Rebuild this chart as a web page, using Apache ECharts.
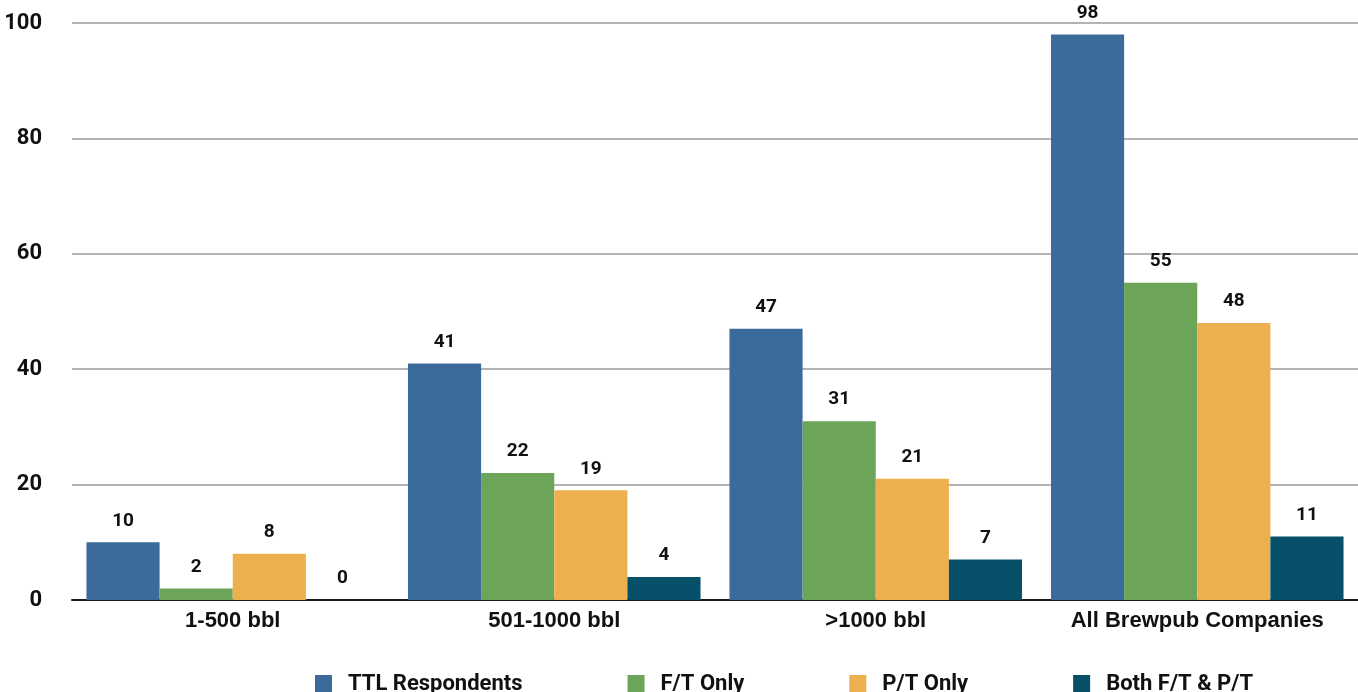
<!DOCTYPE html>
<html><head><meta charset="utf-8">
<script src="https://cdn.jsdelivr.net/npm/echarts@6/dist/echarts.min.js"></script>
<style>html,body{margin:0;padding:0;background:#fff}#c{width:1358px;height:692px}</style>
</head><body><div id="c"></div>
<script>
const categories = ['1-500 bbl', '501-1000 bbl', '>1000 bbl', 'All Brewpub Companies'];
const seriesNames = ['TTL Respondents', 'F/T Only', 'P/T Only', 'Both F/T & P/T'];
const ttlRespondents = [10, 41, 47, 98];
const ftOnly = [2, 22, 31, 55];
const ptOnly = [8, 19, 21, 48];
const bothFtPt = [0, 4, 7, 11];
const yTicks = [0, 20, 40, 60, 80, 100];

const colors = ['#3b6b9b', '#6ca45a', '#edb04e', '#06506a'];
const values = [ttlRespondents, ftOnly, ptOnly, bothFtPt];

const chart = echarts.init(document.getElementById('c'), null, {renderer: 'canvas'});
chart.setOption({
  animation: false,
  backgroundColor: '#fff',
  grid: {left: 72, right: 0, top: 23, bottom: 92, containLabel: false},
  legend: {
    data: seriesNames,
    left: 310, top: 668,
    itemWidth: 17, itemHeight: 18, itemGap: 105,
    icon: 'rect',
    textStyle: {fontFamily: 'Roboto', fontWeight: 'bold', fontSize: 22, color: '#111', padding: [0, 0, 0, 11]}
  },
  xAxis: {
    type: 'category', data: categories,
    axisLine: {show: true, lineStyle: {color: '#1a1a1a', width: 2}},
    axisTick: {show: false},
    axisLabel: {interval: 0, margin: 10, fontFamily: 'Liberation Sans', fontWeight: 'bold', fontSize: 22, color: '#111'}
  },
  yAxis: {
    type: 'value', min: yTicks[0], max: yTicks[yTicks.length - 1], interval: 20,
    axisLine: {show: false}, axisTick: {show: false},
    splitLine: {lineStyle: {color: '#b3b3b3', width: 2}},
    axisLabel: {margin: 30, fontFamily: 'Roboto', fontWeight: 'bold', fontSize: 22, color: '#111'}
  },
  series: seriesNames.map((n, i) => ({
    name: n, type: 'bar', data: values[i],
    barGap: 0, barCategoryGap: '9%',
    itemStyle: {color: colors[i]},
    label: {show: true, position: 'top', distance: 12, fontFamily: 'Roboto', fontWeight: 'bold', fontSize: 19, color: '#111'}
  }))
});
</script></body></html>
